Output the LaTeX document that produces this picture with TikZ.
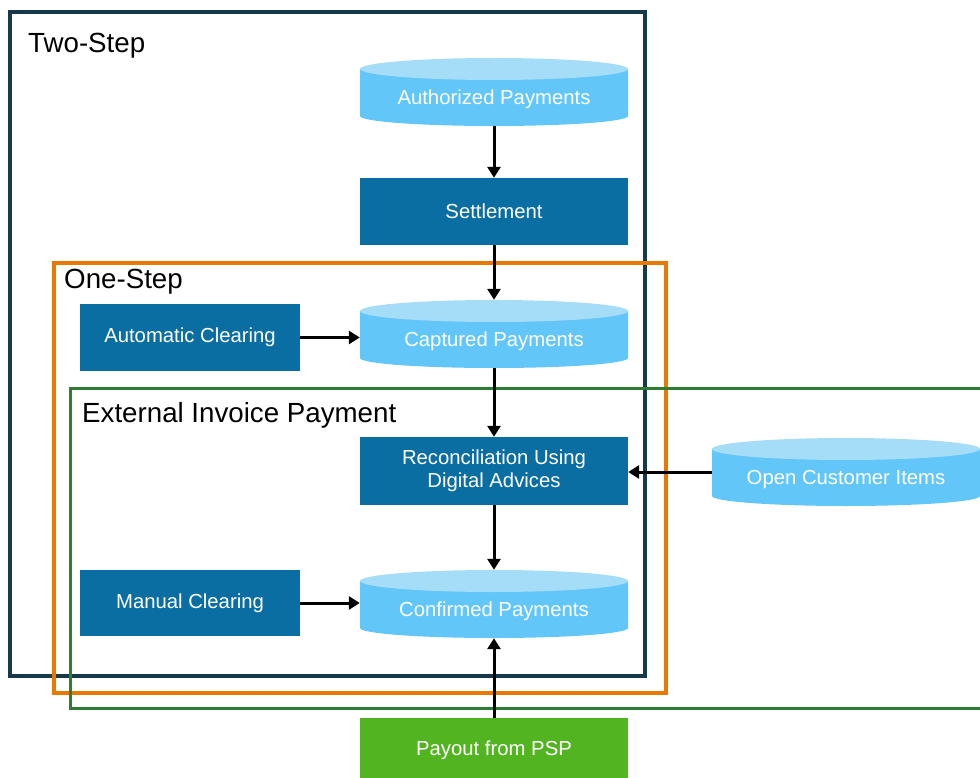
\documentclass[tikz,border=0pt]{standalone}
\usepackage{fontspec}
\setmainfont{Liberation Sans}
\usetikzlibrary{arrows.meta}

\definecolor{boxblue}{RGB}{10,110,163}
\definecolor{cylbody}{RGB}{98,198,248}
\definecolor{cyltop}{RGB}{165,221,249}
\definecolor{payoutgreen}{RGB}{82,180,32}
\definecolor{navyframe}{RGB}{22,58,76}
\definecolor{orangeframe}{RGB}{232,120,0}
\definecolor{greenframe}{RGB}{46,125,50}

\tikzset{
  boxtext/.style={text=white, font=\fontsize{20.3}{23}\selectfont},
  procbox/.style={boxtext, fill=boxblue, minimum width=268pt, minimum height=67pt,
    inner sep=0pt, align=center},
  sidebox/.style={procbox, minimum width=220pt},
  payoutbox/.style={procbox, fill=payoutgreen, minimum height=64pt},
  dbcyl/.style={boxtext, minimum width=268pt, minimum height=68pt, inner sep=0pt,
    text height=29pt, text depth=4pt,
    path picture={
      \fill[cylbody] ([yshift=-11pt]path picture bounding box.north west)
        -- ([yshift=10pt]path picture bounding box.south west)
        arc[start angle=180, end angle=360, x radius=134pt, y radius=10pt]
        -- ([yshift=-11pt]path picture bounding box.north east) -- cycle;
      \fill[cyltop] ([yshift=-11pt]path picture bounding box.north)
        ellipse[x radius=134pt, y radius=11pt];
    }},
  flow/.style={draw=black, line width=3pt, -{Triangle[length=11pt,width=13pt]}},
  frame/.style={line width=3.5pt},
  frametitle/.style={anchor=base west, inner sep=0pt, font=\fontsize{27.7}{32}\selectfont}
}

\begin{document}
\begin{tikzpicture}[x=1pt, y=-1pt]
  \useasboundingbox (0,0) rectangle (980,778);
  \clip (0,0) rectangle (980,778);

  % scope frames
  \draw[frame, navyframe] (10,12) rectangle (645,676);
  \draw[frame, orangeframe] (54,263) rectangle (666,693);
  \draw[frame, greenframe, line width=3pt] (70,388) rectangle (995,708);

  \node[frametitle] (ttwo) at (28,53) {Two-Step};
  \node[frametitle] (tone) at (64,288) {One-Step};
  \node[frametitle] (text) at (82,422) {External Invoice Payment};

  % main column
  \node[dbcyl] (auth) at (494,92) {Authorized Payments};
  \node[procbox] (settle) at (494,211.5) {Settlement};
  \node[dbcyl] (capt) at (494,334) {Captured Payments};
  \node[procbox, minimum height=68pt] (recon) at (494,471) {Reconciliation Using\\Digital Advices};
  \node[dbcyl] (conf) at (494,604) {Confirmed Payments};
  \node[payoutbox] (payout) at (494,750) {Payout from PSP};

  % side inputs
  \node[sidebox] (autoclr) at (190,337.5) {Automatic Clearing};
  \node[sidebox, minimum height=66pt] (manual) at (190,603) {Manual Clearing};
  \node[dbcyl] (open) at (846,472) {Open Customer Items};

  % connectors
  \draw[flow] (auth.south) -- (auth.south |- settle.north);
  \draw[flow] (settle.south) -- (settle.south |- capt.north);
  \draw[flow] (capt.south) -- (capt.south |- recon.north);
  \draw[flow] (recon.south) -- (recon.south |- conf.north);
  \draw[flow] (autoclr.east) -- (autoclr.east -| capt.west);
  \draw[flow] (manual.east) -- (manual.east -| conf.west);
  \draw[flow] (open.west) -- (open.west -| recon.east);
  \draw[flow] (payout.north) -- (payout.north |- conf.south);
\end{tikzpicture}
\end{document}
